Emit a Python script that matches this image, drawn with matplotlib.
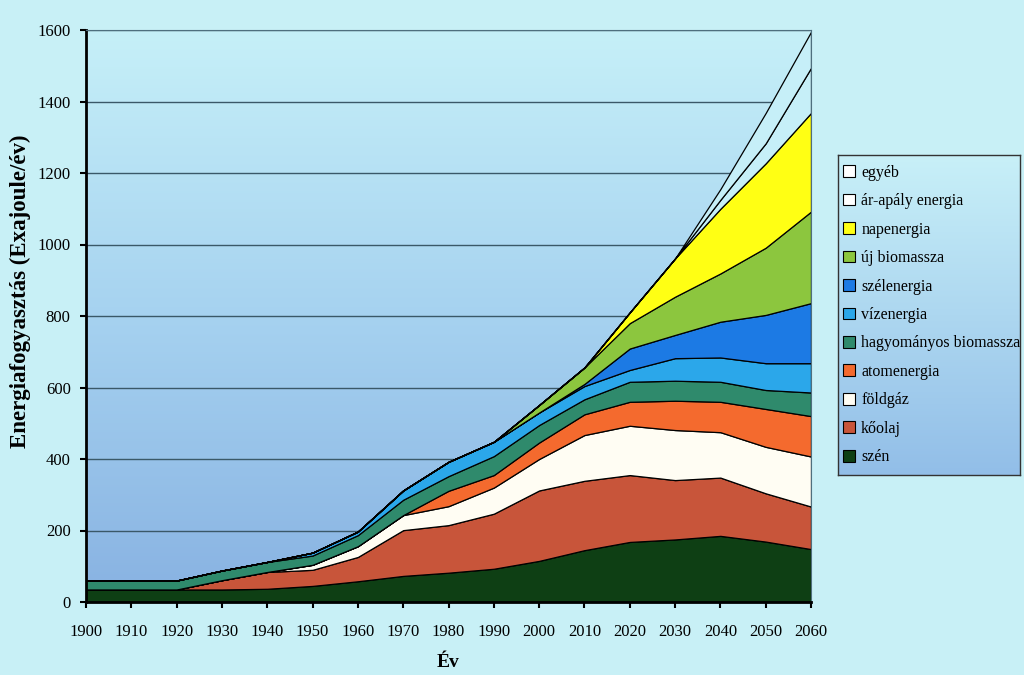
import numpy as np
import matplotlib
matplotlib.use("Agg")
import matplotlib.pyplot as plt
from matplotlib.colors import LinearSegmentedColormap
from matplotlib.patches import Patch

# ---------------- data (EJ / year, per source) ----------
years = [1900, 1910, 1920, 1930, 1940, 1950, 1960, 1970, 1980, 1990,
         2000, 2010, 2020, 2030, 2040, 2050, 2060]

szen        = [35, 35, 35, 35, 37, 45, 58, 73, 82, 93, 115, 145, 168, 175, 185, 169, 148]
koolaj      = [0, 0, 0, 26, 47, 45, 68, 128, 133, 154, 197, 194, 187, 166, 163, 135, 119]
foldgaz     = [0, 0, 0, 0, 0, 14, 30, 42, 53, 73, 88, 128, 138, 140, 127, 130, 140]
atomenergia = [0, 0, 0, 0, 0, 0, 0, 0, 43, 35, 46, 58, 67, 82, 85, 106, 113]
hagy_bio    = [25, 25, 25, 27, 28, 26, 31, 43, 41, 53, 49, 42, 56, 56, 56, 53, 66]
vizenergia  = [0, 0, 0, 0, 0, 8, 10, 26, 40, 40, 35, 37, 33, 63, 68, 75, 82]
szelenergia = [0, 0, 0, 0, 0, 0, 0, 0, 0, 0, 0, 6, 60, 65, 100, 135, 168]
uj_bio      = [0, 0, 0, 0, 0, 0, 0, 0, 0, 0, 21, 46, 71, 107, 135, 188, 256]
napenergia  = [0, 0, 0, 0, 0, 0, 0, 0, 0, 0, 0, 0, 30, 107, 181, 236, 276]
arapaly     = [0, 0, 0, 0, 0, 0, 0, 0, 0, 0, 0, 0, 0, 0, 25, 56, 126]
egyeb       = [0, 0, 0, 0, 0, 0, 0, 0, 0, 0, 0, 0, 0, 0, 30, 85, 101]

labels = ["szén", "kőolaj", "földgáz", "atomenergia", "hagyományos biomassza",
          "vízenergia", "szélenergia", "új biomassza", "napenergia",
          "ár-apály energia", "egyéb"]

y_ticks = [0, 200, 400, 600, 800, 1000, 1200, 1400, 1600]
x_ticks = years

# ---------------- styling ----------------------------------------------------
fig_bg = "#c8f0f6"
area_colors = ["#0e3f14", "#c8553a", "#fffdf3", "#f46a2e", "#2f8a6c",
               "#2ba7ea", "#1c7ae4", "#8cc63e", "#ffff14", "#c6eff8", "#c6eff8"]
legend_colors = area_colors[:9] + ["#ffffff", "#ffffff"]

serif = ["Liberation Serif", "DejaVu Serif"]
plt.rcParams["font.family"] = serif

fig = plt.figure(figsize=(10.24, 6.75), dpi=100, facecolor=fig_bg)
ax = fig.add_axes([86 / 1024, 1 - 602 / 675, 725 / 1024, 572 / 675])

# background gradient of the plot area
grad_cmap = LinearSegmentedColormap.from_list(
    "bg", ["#88b2e2", "#a6d2f0", "#c6f0f8"])
ax.imshow(np.linspace(0, 1, 256).reshape(-1, 1), extent=[1900, 2060, 0, 1600],
          origin="lower", cmap=grad_cmap, aspect="auto", zorder=0,
          interpolation="bilinear")

series = [szen, koolaj, foldgaz, atomenergia, hagy_bio, vizenergia,
          szelenergia, uj_bio, napenergia, arapaly, egyeb]
ax.stackplot(years, *series, colors=area_colors, edgecolor="black",
             linewidth=0.9, zorder=2)

ax.set_xlim(1900, 2060)
ax.set_ylim(0, 1600)
ax.set_xticks(x_ticks)
ax.set_yticks(y_ticks)
ax.set_axisbelow(True)
ax.yaxis.grid(True, color="#3a5868", linewidth=1.0)
ax.xaxis.grid(False)

ax.tick_params(axis="both", direction="out", length=4, width=1.5,
               colors="black", labelsize=12)
ax.tick_params(axis="x", pad=12)
ax.tick_params(axis="y", pad=7)

for s in ("left", "bottom"):
    ax.spines[s].set_linewidth(2)
    ax.spines[s].set_color("black")
for s in ("top", "right"):
    ax.spines[s].set_linewidth(0.8)
    ax.spines[s].set_color("#4f6f7e")

ax.set_ylabel("Energiafogyasztás (Exajoule/év)", fontsize=16.5,
              fontweight="bold", labelpad=10)
ax.yaxis.set_label_coords(-55 / 725, 0.544)
ax.set_xlabel("Év", fontsize=14, fontweight="bold", labelpad=10)

# ---------------- legend with gradient box -----------------------------------
lax = fig.add_axes([838 / 1024, 1 - 475 / 675, 182 / 1024, 320 / 675])
leg_cmap = LinearSegmentedColormap.from_list("lg", ["#92bee8", "#c8f0f8"])
lax.imshow(np.linspace(0, 1, 256).reshape(-1, 1), extent=[0, 1, 0, 1],
           origin="lower", cmap=leg_cmap, aspect="auto",
           interpolation="bilinear")
lax.set_xlim(0, 1)
lax.set_ylim(0, 1)
lax.set_xticks([])
lax.set_yticks([])
for s in lax.spines.values():
    s.set_color("#333333")
    s.set_linewidth(1)

handles = [Patch(facecolor=c, edgecolor="black", linewidth=0.8)
           for c in legend_colors]
order = list(range(len(labels)))[::-1]
lax.legend([handles[i] for i in order], [labels[i] for i in order],
           loc="center left", frameon=False, fontsize=11.5,
           handlelength=0.75, handleheight=0.75, handletextpad=0.4,
           labelspacing=0.78, borderaxespad=0.1, borderpad=0.2)

fig.savefig("out.png", dpi=100, facecolor=fig_bg)
